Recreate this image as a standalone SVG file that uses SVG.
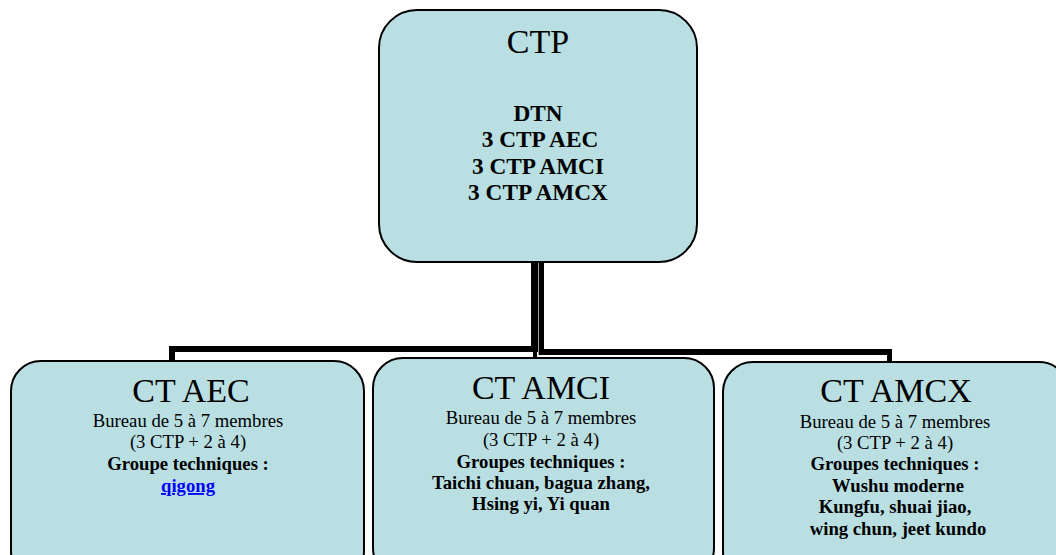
<svg xmlns="http://www.w3.org/2000/svg" width="1056" height="555" viewBox="0 0 1056 555">
<style>
.box{fill:#B9DFE3;stroke:#000;stroke-width:2}
text{font-family:"Liberation Serif","Times New Roman",serif;fill:#000;text-anchor:middle}
.t{font-size:34px}
.b{font-size:18.7px}
.bb{font-size:18.7px;font-weight:bold}
.hb{font-size:23.3px;font-weight:bold}
.conn{fill:#000}
</style>
<rect width="1056" height="555" fill="#fff"/>
<g id="connectors">
<rect class="conn" x="531" y="262" width="7" height="90"/>
<rect class="conn" x="538.6" y="262" width="5.4" height="93"/>
<rect class="conn" x="169" y="346" width="369" height="6"/>
<rect class="conn" x="539" y="349" width="353" height="6"/>
<rect class="conn" x="169" y="346" width="6" height="15"/>
<rect class="conn" x="533" y="350" width="4" height="8"/>
<rect class="conn" x="887" y="349" width="5" height="13"/>
</g>
<g id="ctp">
<rect class="box" x="379" y="10" width="318" height="252" rx="38" ry="38"/>
<text class="t" x="538" y="53">CTP</text>
<text class="hb" x="538" y="121">DTN</text>
<text class="hb" x="540" y="147">3 CTP AEC</text>
<text class="hb" x="538" y="174">3 CTP AMCI</text>
<text class="hb" x="538" y="200">3 CTP AMCX</text>
</g>
<g id="ct-aec">
<rect class="box" x="11" y="361" width="353" height="220" rx="30" ry="30"/>
<text class="t" x="191" y="402">CT AEC</text>
<text class="b" x="188" y="427">Bureau de 5 à 7 membres</text>
<text class="b" x="188" y="448">(3 CTP + 2 à 4)</text>
<text class="bb" x="188" y="470">Groupe techniques :</text>
<text class="bb" x="188" y="492" style="fill:#0000FF;text-decoration:underline">qigong</text>
</g>
<g id="ct-amci">
<rect class="box" x="373" y="358" width="341" height="220" rx="30" ry="30"/>
<text class="t" x="541" y="399">CT AMCI</text>
<text class="b" x="541" y="424">Bureau de 5 à 7 membres</text>
<text class="b" x="541" y="446">(3 CTP + 2 à 4)</text>
<text class="bb" x="541" y="468">Groupes techniques :</text>
<text class="bb" x="541" y="489">Taichi chuan, bagua zhang,</text>
<text class="bb" x="541" y="510">Hsing yi, Yi quan</text>
</g>
<g id="ct-amcx">
<rect class="box" x="723" y="362" width="346" height="220" rx="30" ry="30"/>
<text class="t" x="896" y="402">CT AMCX</text>
<text class="b" x="895" y="428">Bureau de 5 à 7 membres</text>
<text class="b" x="895" y="449">(3 CTP + 2 à 4)</text>
<text class="bb" x="895" y="470">Groupes techniques :</text>
<text class="bb" x="898" y="492">Wushu moderne</text>
<text class="bb" x="895" y="513">Kungfu, shuai jiao,</text>
<text class="bb" x="898" y="535">wing chun, jeet kundo</text>
</g>
</svg>
